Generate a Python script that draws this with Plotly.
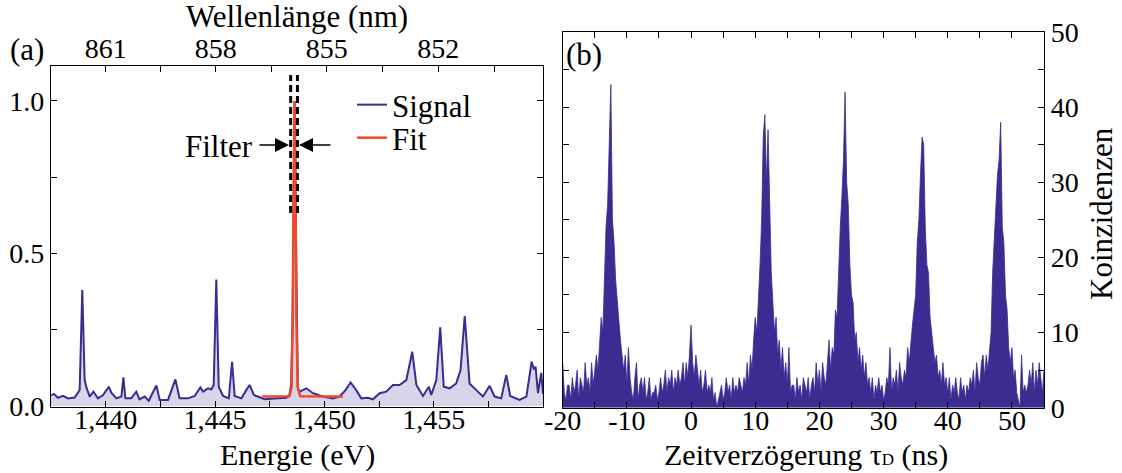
import numpy as np
import plotly.graph_objects as go

# ---------------- Panel (a): spectrum ----------------
energy_ev = [1.43750, 1.43764, 1.43782, 1.43805, 1.43828, 1.43858, 1.43881, 1.43893, 1.43904, 1.43912,
             1.43927, 1.43944, 1.43965, 1.43988, 1.44014, 1.44026, 1.44049, 1.44072, 1.44081, 1.44090,
             1.44117, 1.44140, 1.44155, 1.44178, 1.44197, 1.44232, 1.44247, 1.44285, 1.44319, 1.44338,
             1.44377, 1.44407, 1.44433, 1.44445, 1.44468, 1.44483, 1.44494, 1.44506, 1.44517, 1.44537,
             1.44563, 1.44578, 1.44590, 1.44621, 1.44643, 1.44658, 1.44678, 1.44727, 1.44788, 1.44826,
             1.44840, 1.44848, 1.44854, 1.44859, 1.44864, 1.44869, 1.44874, 1.44879,
             1.44887, 1.44918, 1.44948, 1.44994, 1.45039, 1.45070, 1.45097, 1.45120, 1.45146, 1.45169,
             1.45199, 1.45222, 1.45253, 1.45283, 1.45314, 1.45344, 1.45375, 1.45402, 1.45421, 1.45451,
             1.45478, 1.45489, 1.45512, 1.45530, 1.45546, 1.45573, 1.45603, 1.45623, 1.45642, 1.45664,
             1.45695, 1.45725, 1.45756, 1.45779, 1.45809, 1.45832, 1.45850, 1.45893, 1.45924, 1.45948,
             1.45959, 1.45966, 1.45977, 1.45992, 1.46000]
signal = [0.036, 0.039, 0.027, 0.033, 0.025, 0.028, 0.052, 0.380, 0.085, 0.061,
          0.031, 0.047, 0.025, 0.036, 0.063, 0.044, 0.025, 0.031, 0.094, 0.025,
          0.025, 0.047, 0.022, 0.031, 0.017, 0.067, 0.020, 0.020, 0.087, 0.025,
          0.025, 0.033, 0.061, 0.047, 0.058, 0.054, 0.069, 0.415, 0.063, 0.033,
          0.025, 0.145, 0.033, 0.025, 0.052, 0.069, 0.036, 0.022, 0.025, 0.027,
          0.035, 0.070, 0.250, 0.650, 1.000, 0.620, 0.220, 0.060,
          0.047, 0.058, 0.042, 0.031, 0.025, 0.031, 0.052, 0.077, 0.052, 0.025,
          0.027, 0.022, 0.042, 0.047, 0.069, 0.069, 0.085, 0.178, 0.069, 0.033,
          0.063, 0.036, 0.085, 0.258, 0.063, 0.058, 0.074, 0.118, 0.295, 0.074,
          0.052, 0.031, 0.066, 0.031, 0.025, 0.102, 0.033, 0.020, 0.031, 0.145,
          0.120, 0.129, 0.042, 0.109, 0.040]

fit_energy_ev = [1.44715, 1.44840, 1.44850, 1.44856, 1.44860, 1.44864, 1.44868, 1.44872,
                 1.44878, 1.44890, 1.45085]
fit = [0.031, 0.032, 0.060, 0.300, 0.750, 1.000, 0.750, 0.300, 0.060, 0.032, 0.031]

energy_ticks = [1.4400, 1.4425, 1.4450, 1.4475, 1.4500, 1.4525, 1.4550, 1.4575]
energy_ticktext = ["1,440", " ", "1,445", " ", "1,450", " ", "1,455", " "]
intensity_ticks = [0.0, 0.25, 0.5, 0.75, 1.0]
intensity_ticktext = ["0.0", " ", "0.5", " ", "1.0"]
wavelength_ticks_nm = [861, 859.5, 858, 856.5, 855, 853.5, 852, 850.5]
wavelength_ticktext = ["861", " ", "858", " ", "855", " ", "852", " "]
HC_EV_NM = 1239.842
filter_edges_ev = [1.44846, 1.44877]

# ---------------- Panel (b): coincidence histogram ----------------
counts = (
    [6, 2, 1, 3, 3, 1, 4, 2, 3, 5, 1, 4, 3, 2, 6, 3]
    + [4, 2, 6, 3, 5, 7, 5, 8, 12, 10, 18, 24, 27, 35, 43, 25, 22, 17, 14, 12, 9, 7, 5, 7, 3, 8, 4, 2]
    + [1, 4, 6, 1, 3, 4, 2, 4, 1, 2, 4, 1, 2, 2, 3, 1, 2, 4, 2, 3, 5, 2, 4, 3, 5, 2, 4, 3]
    + [5, 3, 4, 6, 3, 6, 4, 7, 11, 6, 4, 7, 5, 3, 5, 2, 3, 5, 2, 3]
    + [2, 4, 1, 2, 0, 1, 2, 3, 1, 2, 4, 2, 3, 1, 4, 2, 3, 2, 4, 3]
    + [2, 4, 3, 6, 3, 7, 5, 9, 12, 10, 14, 19, 25, 36, 39, 30, 37, 27, 18, 14, 10, 12, 7, 9, 5, 8, 4, 6, 3, 8, 2, 3]
    + [3, 1, 4, 2, 3, 1, 4, 3, 2, 4, 1, 3, 4, 2, 6, 3, 5, 2, 6, 4]
    + [3, 6, 9, 5, 8, 7, 13, 12, 19, 24, 28, 33, 42, 30, 27, 19, 15, 14, 9, 10, 6, 8, 5, 7, 4, 6, 3, 4]
    + [2, 4, 1, 3, 2, 4, 2, 3, 1, 2, 4, 3, 8, 2, 4, 3, 5, 2, 6, 4]
    + [3, 5, 4, 8, 6, 9, 11, 13, 15, 22, 25, 31, 36, 35, 24, 19, 18, 12, 10, 8, 6, 7, 4, 5, 3, 6, 3, 4]
    + [2, 4, 1, 3, 2, 4, 2, 1, 4, 2, 3, 1, 3, 2, 4, 3, 5, 2, 6, 4]
    + [3, 6, 7, 4, 7, 5, 8, 10, 18, 22, 26, 31, 33, 38, 24, 22, 15, 13, 8, 6, 8, 4, 5, 2, 1, 0, 7, 2]
    + [3, 2, 3, 5, 3, 6, 2, 5, 3, 6, 4, 2, 5]
)
BIN_START_NS = -20.0
BIN_WIDTH_NS = 0.25
delay_ns = BIN_START_NS + BIN_WIDTH_NS * np.arange(len(counts))

delay_ticks = list(range(-20, 56, 5))
delay_ticktext = [str(v) if v % 10 == 0 else " " for v in delay_ticks]
count_ticks = list(range(0, 51, 5))
count_ticktext = [str(v) if v % 10 == 0 else " " for v in count_ticks]

# ---------------- styling ----------------
W, H = 1122, 473
FONT = "'Liberation Serif', 'DejaVu Serif', serif"
BLUE = "rgb(58,44,145)"
LAVENDER = "rgb(215,213,234)"
RED = "rgb(240,72,40)"
FS = 31     # titles, legend, annotations
FSK = 28    # tick labels

def px(x):
    return x / W

def py(y):
    return (H - y) / H

fig = go.Figure()
fig.add_trace(go.Scatter(x=energy_ev, y=signal, mode="lines", name="Signal", showlegend=False,
                         line=dict(color=BLUE, width=2), fill="tozeroy", fillcolor=LAVENDER,
                         xaxis="x", yaxis="y"))
fig.add_trace(go.Scatter(x=[None], y=[None], mode="lines", name="Signal", legend="legend",
                         line=dict(color=BLUE, width=2), xaxis="x", yaxis="y"))
fig.add_trace(go.Scatter(x=fit_energy_ev, y=fit, mode="lines", name="Fit", legend="legend2",
                         line=dict(color=RED, width=2.5), xaxis="x", yaxis="y"))
fig.add_trace(go.Scatter(x=[1.4375, 1.4600], y=[0.5, 0.5], mode="lines",
                         line=dict(width=0), opacity=0, showlegend=False, hoverinfo="skip",
                         xaxis="x3", yaxis="y"))
fig.add_trace(go.Scatter(x=delay_ns, y=counts, mode="lines", showlegend=False,
                         line=dict(color=BLUE, width=0.8), fill="tozeroy", fillcolor=BLUE,
                         xaxis="x2", yaxis="y2"))

axis_common = dict(showgrid=False, zeroline=False, showline=True, linecolor="black", linewidth=1.3,
                   ticks="inside", ticklen=6, tickwidth=1.2, tickcolor="black", automargin=False,
                   tickfont=dict(family=FONT, size=FSK, color="black"))

legend_common = dict(xanchor="left", yanchor="middle", bgcolor="rgba(0,0,0,0)",
                     font=dict(family=FONT, size=FS, color="black"), itemwidth=30)

e_range = [1.4375, 1.4600]
fig.update_layout(
    width=W, height=H, margin=dict(l=0, r=0, t=0, b=0, autoexpand=False),
    paper_bgcolor="white", plot_bgcolor="white",
    font=dict(family=FONT, size=FS, color="black"),
    xaxis=dict(domain=[px(51), px(543)], range=e_range, anchor="y", mirror=True,
               tickmode="array", tickvals=energy_ticks, ticktext=energy_ticktext,
               ticklabelstandoff=-12, **axis_common),
    xaxis3=dict(range=e_range, anchor="y", overlaying="x", side="top",
                tickmode="array", tickvals=[HC_EV_NM / w for w in wavelength_ticks_nm],
                ticktext=wavelength_ticktext, ticklabelstandoff=-5, **axis_common),
    yaxis=dict(domain=[py(406.7), py(65.7)], range=[-0.0023, 1.1157], anchor="x", mirror="ticks",
               tickmode="array", tickvals=intensity_ticks, ticktext=intensity_ticktext,
               **axis_common),
    xaxis2=dict(domain=[px(562.7), px(1044)], range=[-20, 55], anchor="y2", mirror="ticks",
                tickmode="array", tickvals=delay_ticks, ticktext=delay_ticktext,
                ticklabelstandoff=-12, **axis_common),
    yaxis2=dict(domain=[py(407.7), py(32)], range=[0, 50], anchor="x2", side="right", mirror="ticks",
                tickmode="array", tickvals=count_ticks, ticktext=count_ticktext,
                **axis_common),
    legend=dict(x=px(352), y=py(105), **legend_common),
    legend2=dict(x=px(352), y=py(138), **legend_common),
    showlegend=True,
)

for xe in filter_edges_ev:
    fig.add_shape(type="line", xref="x", yref="y", x0=xe, x1=xe, y0=0.633, y1=1.085,
                  line=dict(color="black", width=3, dash="7px,4px"))

def label(text, x, y, angle=0, anchor="center", size=FS):
    fig.add_annotation(text=text, xref="paper", yref="paper", x=px(x), y=py(y), textangle=angle,
                       xanchor=anchor, yanchor="middle", showarrow=False,
                       font=dict(family=FONT, size=size, color="black"))

label("Wellenlänge (nm)", 297, 16)
label("Energie (eV)", 297, 455, size=30)
label("Zeitverzögerung τ<span style='font-size:17px'>D</span> (ns)", 806, 455, size=30)
label("Koinzidenzen", 1101, 214, angle=-90)
label("(a)", 27, 50)
label("(b)", 584, 55)
label("Filter", 255, 147, anchor="right")

fig.add_annotation(text="", xref="paper", yref="paper", x=px(289), y=py(145), ax=-31, ay=0,
                   showarrow=True, arrowhead=2, arrowsize=2.0, arrowwidth=1.4, arrowcolor="black")
fig.add_annotation(text="", xref="paper", yref="paper", x=px(299), y=py(145), ax=33, ay=0,
                   showarrow=True, arrowhead=2, arrowsize=2.0, arrowwidth=1.4, arrowcolor="black")

fig.write_html("out.html")
